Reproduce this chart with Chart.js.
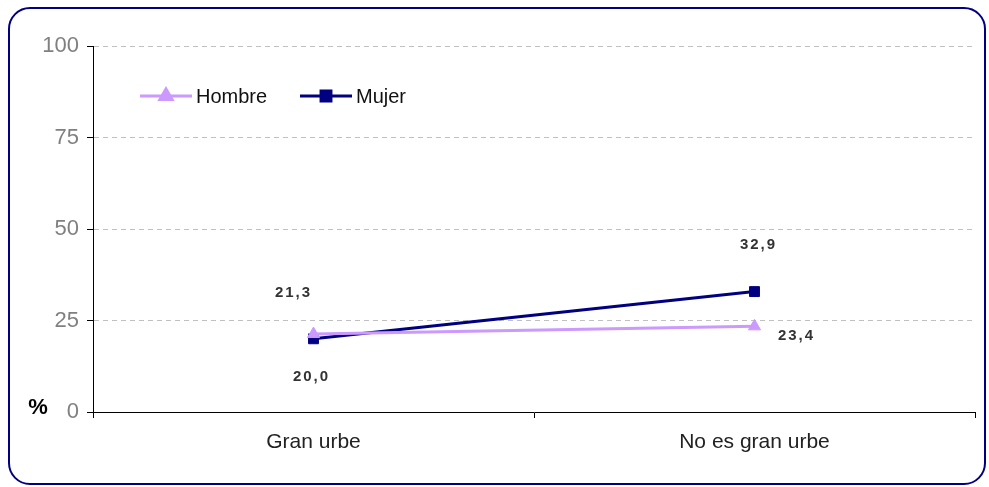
<!DOCTYPE html>
<html>
<head>
<meta charset="utf-8">
<script src="https://cdn.jsdelivr.net/npm/chart.js@4"></script>
<style>
  html, body { margin: 0; padding: 0; background: #fff; }
  #wrap { position: relative; width: 989px; height: 487px; }
  #frame {
    position: absolute; left: 8px; top: 7px; width: 974px; height: 474px;
    border: 2px solid #000080; border-radius: 22px; box-sizing: content-box;
  }
  canvas { position: absolute; left: 0; top: 0; }
</style>
</head>
<body>
<div id="wrap">
  <div id="frame"></div>
  <canvas id="chartCanvas" width="989" height="487"></canvas>
</div>
<script>
// --- Data ---
const categories = ["Gran urbe", "No es gran urbe"];
const hombre = [21.3, 23.4];
const mujer = [20.0, 32.9];
const yTicks = [0, 25, 50, 75, 100];

// label offsets (px) from each point
const labelOffsets = {
  0: [[-20, -41], [42, 10]],
  1: [[-2, 38], [4, -47]]
};

const fmt = v => v.toFixed(1).replace(".", ",");

// value labels, legend and the "%" mark
const extras = {
  id: "extras",
  afterDatasetsDraw(chart) {
    const ctx = chart.ctx;
    ctx.save();
    ctx.font = "bold 15px 'Liberation Sans', Arial, sans-serif";
    ctx.letterSpacing = "2px";
    ctx.fillStyle = "#333";
    ctx.textAlign = "center";
    ctx.textBaseline = "middle";
    chart.data.datasets.forEach((ds, i) => {
      chart.getDatasetMeta(i).data.forEach((pt, j) => {
        const [dx, dy] = labelOffsets[i][j];
        ctx.fillText(fmt(ds.data[j]), pt.x + dx, pt.y + dy);
      });
    });
    ctx.letterSpacing = "0px";

    // legend
    const items = [
      { text: "Hombre", color: "#cc99ff", style: "triangle", x: 140 },
      { text: "Mujer", color: "#000080", style: "rect", x: 300 }
    ];
    const ly = 96;
    items.forEach(it => {
      ctx.strokeStyle = it.color;
      ctx.lineWidth = 3;
      ctx.beginPath();
      ctx.moveTo(it.x, ly);
      ctx.lineTo(it.x + 52, ly);
      ctx.stroke();
      Chart.helpers.drawPoint(ctx, { pointStyle: it.style, radius: 7, borderWidth: 1 }, it.x + 26, ly);
      ctx.fillStyle = it.color;
      ctx.fill();
      ctx.fillStyle = "#111";
      ctx.font = "20px 'Liberation Sans', Arial, sans-serif";
      ctx.textAlign = "left";
      ctx.fillText(it.text, it.x + 56, ly + 1);
    });

    ctx.font = "bold 22px 'Liberation Sans', Arial, sans-serif";
    ctx.fillStyle = "#000";
    ctx.textAlign = "center";
    ctx.fillText("%", 38, 408);
    ctx.restore();
  }
};

new Chart(document.getElementById("chartCanvas"), {
  type: "line",
  data: {
    labels: categories,
    datasets: [
      {
        label: "Hombre",
        data: hombre,
        borderColor: "#cc99ff",
        backgroundColor: "#cc99ff",
        borderWidth: 3,
        pointStyle: "triangle",
        pointRadius: 7,
        pointBorderWidth: 1
      },
      {
        label: "Mujer",
        data: mujer,
        borderColor: "#000080",
        backgroundColor: "#000080",
        borderWidth: 3,
        pointStyle: "rect",
        pointRadius: 7,
        pointBorderWidth: 1
      }
    ]
  },
  options: {
    responsive: false,
    animation: false,
    layout: { padding: { left: 0, right: 14, top: 46, bottom: 0 } },
    plugins: { legend: { display: false }, tooltip: { enabled: false } },
    scales: {
      x: {
        offset: true,
        grid: { offset: true, drawOnChartArea: false, tickLength: 6, color: "#000" },
        border: { color: "#000", width: 1 },
        ticks: {
          color: "#222",
          padding: 12,
          font: { family: "'Liberation Sans', Arial, sans-serif", size: 21 }
        },
        afterFit: s => { s.height = 75; }
      },
      y: {
        min: 0,
        max: 100,
        afterBuildTicks: s => { s.ticks = yTicks.map(v => ({ value: v })); },
        grid: {
          color: c => (c.tick && c.tick.value === 0 ? "rgba(0,0,0,0)" : "#c0c0c0"),
          tickColor: "#000",
          tickBorderDash: [],
          tickLength: 6
        },
        border: { color: "#000", width: 1, dash: [5, 4] },
        ticks: {
          color: "#808080",
          padding: 8,
          font: { family: "'Liberation Sans', Arial, sans-serif", size: 22 }
        },
        afterFit: s => { s.width = 93; }
      }
    }
  },
  plugins: [extras]
});
</script>
</body>
</html>
